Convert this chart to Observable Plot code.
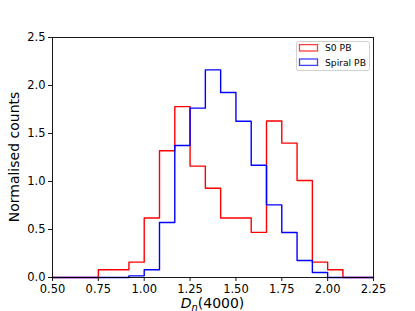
<!DOCTYPE html>
<html>
<head>
<meta charset="utf-8">
<script src="https://cdn.jsdelivr.net/npm/d3@7"></script>
<script src="https://cdn.jsdelivr.net/npm/@observablehq/plot@0.6"></script>
<style>
  html, body { margin: 0; padding: 0; background: white; }
  svg { display: block; }
</style>
</head>
<body>
<div id="chart"></div>
<script>
// Histogram bin edges (bin width 1/12)
const binEdges = [0.5, 0.5833, 0.6667, 0.75, 0.8333, 0.9167, 1.0, 1.0833, 1.1667, 1.25, 1.3333,
                  1.4167, 1.5, 1.5833, 1.6667, 1.75, 1.8333, 1.9167, 2.0, 2.0833, 2.1667, 2.25];
// Normalised counts per bin
const s0PB     = [0, 0, 0, 0.08, 0.08, 0.16, 0.62, 1.32, 1.78, 1.16, 0.93, 0.62, 0.62, 0.47, 1.63, 1.40, 1.01, 0.16, 0.08, 0, 0];
const spiralPB = [0, 0, 0, 0, 0, 0.017, 0.08, 0.573, 1.375, 1.764, 2.163, 1.927, 1.628, 1.17, 0.757, 0.469, 0.177, 0.052, 0, 0, 0];
const seriesNames = ["S0 PB", "Spiral PB"];
const seriesColors = ["red", "blue"];
const xTicks = [0.5, 0.75, 1.0, 1.25, 1.5, 1.75, 2.0, 2.25];
const yTicks = [0, 0.5, 1.0, 1.5, 2.0, 2.5];

function stepPoints(values) {
  const n = values.length;
  const pts = binEdges.map((e, i) => ({x: e, y: values[Math.min(i, n - 1)]}));
  return [{x: binEdges[0], y: 0}, ...pts, {x: binEdges[binEdges.length - 1], y: 0}];
}

const W = 415, H = 311;
const mL = 52, mR = 42, mT = 37, mB = 34;

const chart = Plot.plot({
  width: W,
  height: H,
  marginLeft: mL,
  marginRight: mR,
  marginTop: mT,
  marginBottom: mB,
  style: {fontFamily: "DejaVu Sans", fontSize: "11.5px", background: "white", color: "black"},
  x: {domain: [0.5, 2.25], ticks: xTicks, tickFormat: d3.format(".2f"), label: null},
  y: {domain: [0, 2.5], ticks: yTicks, tickFormat: d3.format(".1f"), label: null},
  marks: [
    Plot.line(stepPoints(s0PB), {x: "x", y: "y", curve: "step-after", stroke: seriesColors[0], strokeWidth: 1.4}),
    Plot.line(stepPoints(spiralPB), {x: "x", y: "y", curve: "step-after", stroke: seriesColors[1], strokeWidth: 1.4}),
    Plot.axisX({ticks: xTicks, tickFormat: d3.format(".2f"), tickSize: 4, tickPadding: 3, fontSize: 11.5, label: null, stroke: "black", strokeWidth: 0.9}),
    Plot.axisY({ticks: yTicks, tickFormat: d3.format(".1f"), tickSize: 4, tickPadding: 3, fontSize: 11.5, label: null, stroke: "black", strokeWidth: 0.9}),
    Plot.frame({stroke: "black", strokeWidth: 0.9})
  ]
});

document.getElementById("chart").appendChild(chart);

const svg = d3.select(chart);
const cx = (mL + (W - mR)) / 2;
const cy = (mT + (H - mB)) / 2;

// x-axis label: D_n(4000)
const xl = svg.append("text")
  .attr("x", cx).attr("y", 308)
  .attr("text-anchor", "middle")
  .attr("font-family", "DejaVu Sans")
  .attr("font-size", 14)
  .attr("fill", "black");
xl.append("tspan").attr("font-style", "italic").text("D");
xl.append("tspan").attr("font-style", "italic").attr("font-size", 10).attr("dy", 2.5).text("n");
xl.append("tspan").attr("dy", -2.5).text("(4000)");

// y-axis label
svg.append("text")
  .attr("transform", `translate(18.5,${cy}) rotate(-90)`)
  .attr("text-anchor", "middle")
  .attr("font-family", "DejaVu Sans")
  .attr("font-size", 14)
  .attr("fill", "black")
  .text("Normalised counts");

// Legend
const lg = svg.append("g").attr("text-anchor", "start");
lg.append("rect")
  .attr("x", 296.5).attr("y", 41.5).attr("width", 73).attr("height", 29)
  .attr("rx", 2).attr("fill", "white").attr("fill-opacity", 0.8)
  .attr("stroke", "#cccccc").attr("stroke-width", 0.9);
const rowY = [47.8, 62.2];
seriesNames.forEach((name, i) => {
  lg.append("rect")
    .attr("x", 299.5).attr("y", rowY[i] - 3.2).attr("width", 18).attr("height", 6.4)
    .attr("fill", "none").attr("stroke", seriesColors[i]).attr("stroke-width", 1.3)
    .attr("stroke-opacity", 0.75);
  lg.append("text")
    .attr("x", 325).attr("y", rowY[i] + 3.3)
    .attr("text-anchor", "start")
    .attr("font-family", "DejaVu Sans").attr("font-size", 9.2)
    .attr("fill", "black")
    .text(name);
});
</script>
</body>
</html>
